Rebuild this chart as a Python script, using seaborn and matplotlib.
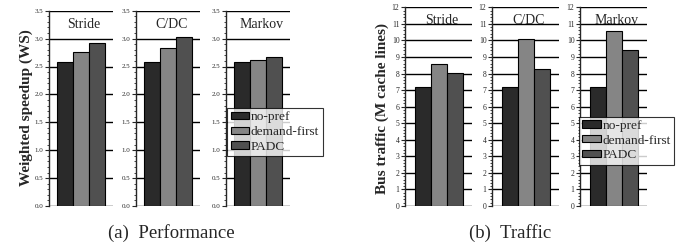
import matplotlib
matplotlib.use("Agg")
import matplotlib.pyplot as plt
import seaborn as sns
import pandas as pd
import numpy as np
from matplotlib.ticker import MultipleLocator
from matplotlib.patches import Patch

sns.set_style("white")
plt.rcParams['font.family'] = ['Liberation Serif', 'DejaVu Serif']

prefetchers = ["Stride", "C/DC", "Markov"]
policies = ["no-pref", "demand-first", "PADC"]
speedup_nopref = [2.58, 2.58, 2.58]
speedup_demand = [2.76, 2.84, 2.61]
speedup_padc = [2.93, 3.02, 2.67]
traffic_nopref = [7.2, 7.2, 7.2]
traffic_demand = [8.55, 10.1, 10.55]
traffic_padc = [8.05, 8.3, 9.45]
colors = ["#2a2a2a", "#858585", "#505050"]

def make_df(a, b, c):
    rows = []
    for i, p in enumerate(prefetchers):
        for pol, v in zip(policies, [a[i], b[i], c[i]]):
            rows.append({"prefetcher": p, "policy": pol, "value": v})
    return pd.DataFrame(rows)

df_ws = make_df(speedup_nopref, speedup_demand, speedup_padc)
df_bt = make_df(traffic_nopref, traffic_demand, traffic_padc)

W, H = 6.83, 2.48
fig = plt.figure(figsize=(W, H), dpi=100)

def px(x0, y0, x1, y1):
    return [x0 / 683, 1 - y1 / 248, (x1 - x0) / 683, (y1 - y0) / 248]

ws_axes = [px(49, 10.7, 113, 206), px(136, 10.7, 200, 206), px(226, 10.7, 290, 206)]
bt_axes = [px(405, 7.3, 472, 206), px(492, 7.3, 559, 206), px(580, 7.3, 647, 206)]

def draw(axrects, df, ymax, major, minor, fmt, xlim, ylabel, ylabel_x, lsize):
    axes = []
    for i, (rect, p) in enumerate(zip(axrects, prefetchers)):
        ax = fig.add_axes(rect)
        sub = df[df.prefetcher == p]
        sns.barplot(data=sub, x="policy", y="value", hue="policy", order=policies,
                    hue_order=policies, palette=colors, width=1.0, dodge=False,
                    edgecolor="black", linewidth=0.8, legend=False, ax=ax, zorder=3)
        ax.set_xlim(*xlim)
        ax.set_ylim(0, ymax)
        ax.yaxis.set_major_locator(MultipleLocator(major))
        ax.yaxis.set_minor_locator(MultipleLocator(minor))
        ax.yaxis.set_major_formatter(plt.FuncFormatter(lambda v, _: fmt.format(v)))
        for v in np.arange(0, ymax + 1e-9, major):
            ax.axhline(v, color="black", lw=1.0, zorder=1)
        ax.set_xticks([])
        ax.set_xlabel("")
        ax.set_ylabel("")
        for s in ["top", "right", "bottom"]:
            ax.spines[s].set_visible(False)
        ax.spines["left"].set_linewidth(1.0)
        ax.tick_params(axis="y", which="major", direction="out", length=3, width=0.8,
                       labelsize=lsize, pad=1, left=True)
        ax.tick_params(axis="y", which="minor", direction="out", length=1.5, width=0.6, left=True)
        ax.text(0.55, 0.965, p, transform=ax.transAxes, ha="center", va="top", fontsize=10)
        axes.append(ax)
    fig.text(ylabel_x / 683, 1 - 108 / 248, ylabel, rotation=90, ha="center", va="center",
             fontsize=11, fontweight="bold")
    return axes

ax_ws = draw(ws_axes, df_ws, 3.5, 0.5, 0.1, "{:.1f}", (-1.0, 3.0),
             "Weighted speedup (WS)", 26, 5)
ax_bt = draw(bt_axes, df_bt, 12, 1, 0.2, "{:.0f}", (-1.1, 3.05),
             "Bus traffic (M cache lines)", 382, 5.5)

handles = [Patch(facecolor=c, edgecolor="black", linewidth=0.8) for c in colors]

def add_legend(ax, x0, y0, x1, y1):
    bb = fig.add_axes(px(x0, y0, x1, y1))
    bb.set_axis_off()
    leg = bb.legend(handles, policies, loc="center", fontsize=9.6, frameon=True,
                    fancybox=False, edgecolor="black", handlelength=1.4, handleheight=0.45,
                    handletextpad=0.1, labelspacing=0.2, borderpad=0.25, borderaxespad=0)
    leg.get_frame().set_linewidth(0.8)
    leg.set_zorder(10)

add_legend(ax_ws[2], 228, 108, 322, 156)
add_legend(ax_bt[2], 579, 116, 674, 165)

fig.text(171 / 683, 1 - 233 / 248, "(a)  Performance", ha="center", va="center", fontsize=13.5)
fig.text(510 / 683, 1 - 233 / 248, "(b)  Traffic", ha="center", va="center", fontsize=13.5)

fig.savefig("out.png", dpi=100)
